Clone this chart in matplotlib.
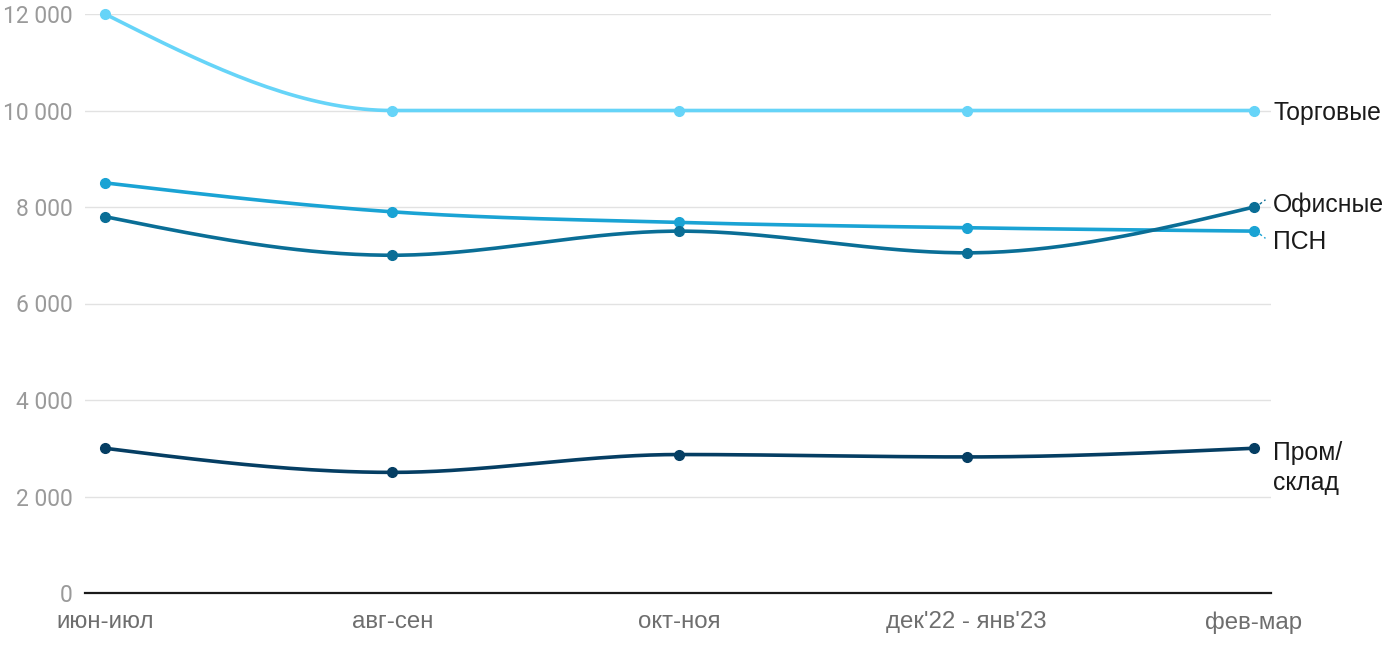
import matplotlib
matplotlib.use("Agg")
import matplotlib.pyplot as plt
import numpy as np

periods = ["июн-июл", "авг-сен", "окт-ноя", "дек'22 - янв'23", "фев-мар"]
trade = [12000, 10000, 10000, 10000, 10000]
psn = [8500, 7900, 7680, 7570, 7500]
office = [7800, 7000, 7500, 7050, 8000]
industrial = [3000, 2500, 2870, 2820, 3000]

series = [
    ("Торговые", trade, "#66d4f8"),
    ("ПСН", psn, "#1aa3d4"),
    ("Офисные", office, "#0a6e96"),
    ("Пром/\nсклад", industrial, "#053e63"),
]


def monotone(x, y, n=40):
    # monotone cubic (d3 curveMonotoneX style) for smooth drawing
    x = np.asarray(x, float)
    y = np.asarray(y, float)
    h = np.diff(x)
    s = np.diff(y) / h
    m = np.zeros(len(x))
    for i in range(1, len(x) - 1):
        p = (s[i - 1] * h[i] + s[i] * h[i - 1]) / (h[i - 1] + h[i])
        m[i] = (np.sign(s[i - 1]) + np.sign(s[i])) * min(abs(s[i - 1]), abs(s[i]), 0.5 * abs(p))
    m[0] = (3 * s[0] - m[1]) / 2
    m[-1] = (3 * s[-1] - m[-2]) / 2
    xs, ys = [], []
    for i in range(len(x) - 1):
        t = np.linspace(0, 1, n)
        h00 = 2 * t**3 - 3 * t**2 + 1
        h10 = t**3 - 2 * t**2 + t
        h01 = -2 * t**3 + 3 * t**2
        h11 = t**3 - t**2
        xs.append(x[i] + t * h[i])
        ys.append(h00 * y[i] + h10 * h[i] * m[i] + h01 * y[i + 1] + h11 * h[i] * m[i + 1])
    return np.concatenate(xs), np.concatenate(ys)


fig = plt.figure(figsize=(14, 6.5), dpi=100)
ax = fig.add_axes([85 / 1400, 1 - 593 / 650, (1271 - 85) / 1400, (593 - 14) / 650])

xpos = np.arange(len(periods))
for name, vals, color in series:
    sx, sy = monotone(xpos, vals)
    ax.plot(sx, sy, color=color, lw=2.6, solid_capstyle="round", zorder=3, clip_on=False)
    ax.plot(xpos, vals, "o", color=color, ms=7, zorder=4, clip_on=False)

ax.set_xlim(-20 / 287.25, 4 + 17 / 287.25)
ax.set_ylim(0, 12000)
ax.set_yticks(range(0, 12001, 2000))
ax.set_yticklabels([f"{v:,}".replace(",", " ") for v in range(0, 12001, 2000)],
                   fontfamily="Roboto", fontsize=16.5, color="#9a9a9a")
ax.set_xticks(xpos)
ax.set_xticklabels(periods, fontfamily="Liberation Sans", fontsize=17.3, color="#6e6e6e")
ax.tick_params(axis="both", length=0)
ax.tick_params(axis="y", pad=9)
ax.tick_params(axis="x", pad=13)
ax.grid(axis="y", color="#e2e2e2", lw=1, zorder=0)
for sp in ["top", "right", "left"]:
    ax.spines[sp].set_visible(False)
ax.spines["bottom"].set_color("#1a1a1a")
ax.spines["bottom"].set_linewidth(1.6)

# right-side labels
last = len(periods) - 1
label_y = {"Торговые": 9950, "Офисные": 8040, "ПСН": 7275, "Пром/\nсклад": 2590}
for name, vals, color in series:
    ly = label_y[name]
    ax.annotate(name, xy=(last, vals[-1]), xytext=(1273, ly),
                textcoords=("figure pixels", "data"),
                fontfamily="Liberation Sans", fontsize=17.8, color="#1a1a1a",
                va="center", ha="left", annotation_clip=False, linespacing=1.3)
    if name in ("Офисные", "ПСН"):
        dy = 1 if name == "Офисные" else -1
        ax.plot([last + 0.02, last + 0.04], [vals[-1] + dy * 60, vals[-1] + dy * 150],
                color=color, lw=1, ls=(0, (2, 2)), clip_on=False)

fig.savefig("out.png", dpi=100)
